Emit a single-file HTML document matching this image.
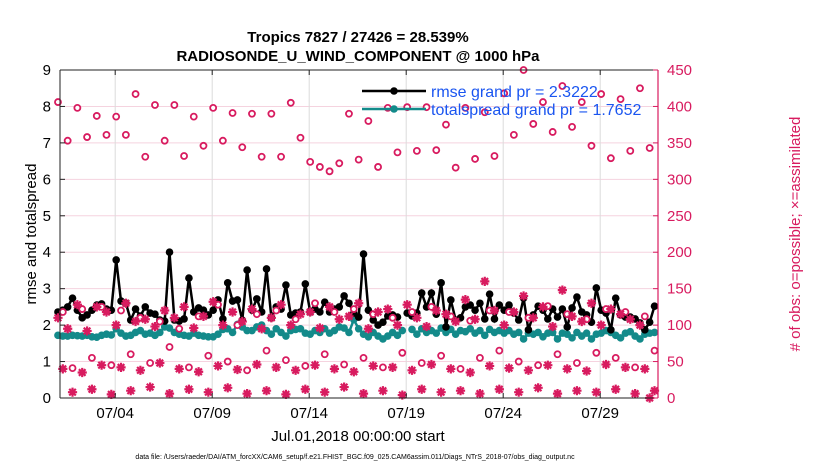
<!DOCTYPE html>
<html><head><meta charset="utf-8"><style>
body{margin:0;background:#fff;}
svg{display:block;font-family:"Liberation Sans",Arial,sans-serif;}
</style></head><body>
<svg id="chart" width="830" height="470" viewBox="0 0 830 470" xmlns="http://www.w3.org/2000/svg">
<text x="358" y="42" font-size="15" font-weight="bold" text-anchor="middle">Tropics 7827 / 27426 = 28.539%</text>
<text x="358" y="61" font-size="15" font-weight="bold" text-anchor="middle">RADIOSONDE_U_WIND_COMPONENT @ 1000 hPa</text>
<g id="grid"></g>
<g id="marks"></g>
<g id="axes"></g>
<g id="legend">
  <line x1="362" y1="91" x2="426" y2="91" stroke="#000" stroke-width="2.5"/>
  <circle cx="394" cy="91" r="3.8" fill="#000"/>
  <text x="431" y="97" font-size="16" fill="#1a55f0">rmse grand pr = 2.3222</text>
  <line x1="362" y1="109" x2="426" y2="109" stroke="#138a8a" stroke-width="2.5"/>
  <circle cx="394" cy="109" r="3.8" fill="#138a8a"/>
  <text x="431" y="115" font-size="16" fill="#1a55f0">totalspread grand pr = 1.7652</text>
</g>
<text x="358" y="441" font-size="15" text-anchor="middle">Jul.01,2018 00:00:00 start</text>
<text transform="translate(36,234) rotate(-90)" font-size="15" text-anchor="middle">rmse and totalspread</text>
<text transform="translate(800,234) rotate(-90)" font-size="15" text-anchor="middle" fill="#d81b5f"># of obs: o=possible; ×=assimilated</text>
<text x="355" y="459" font-size="7" text-anchor="middle">data file: /Users/raeder/DAI/ATM_forcXX/CAM6_setup/f.e21.FHIST_BGC.f09_025.CAM6assim.011/Diags_NTrS_2018-07/obs_diag_output.nc</text>
</svg>
<script>
const rmse = [2.36,2.41,2.5,2.74,2.41,2.2,2.28,2.41,2.55,2.58,2.44,2.41,3.79,2.66,2.6,2.14,2.44,2.25,2.5,2.33,2.3,2.14,2.11,4.0,2.14,2.11,2.17,3.29,2.36,2.47,2.41,2.28,2.41,
2.69,2.17,3.16,2.66,2.69,2.14,3.51,2.41,2.72,2.36,3.54,2.2,2.5,2.44,3.1,2.28,2.33,2.36,3.13,2.36,2.44,2.36,2.63,2.36,2.44,2.5,2.8,2.6,2.33,2.22,3.95,2.41,
2.14,2.0,2.08,2.25,2.28,2.22,null,2.33,2.25,2.33,2.88,2.5,2.88,2.3,3.16,1.95,2.69,2.14,2.2,2.5,2.55,2.41,2.6,2.17,2.85,2.17,2.55,2.41,2.55,2.33,
2.14,2.74,1.87,2.28,2.52,2.41,2.17,2.44,2.22,2.44,1.95,2.47,2.77,2.36,2.28,2.08,3.02,2.41,2.33,1.87,2.74,2.28,2.22,2.22,2.17,2.06,1.87,2.08,2.52];
const spread = [1.72,1.70,1.70,1.72,1.71,1.70,1.72,1.68,1.67,1.72,1.75,1.73,
1.90,1.78,1.70,1.72,1.80,1.85,1.75,1.78,1.72,1.80,1.95,
1.92,1.80,1.75,1.72,1.70,1.78,1.72,1.70,1.68,
1.68,1.75,1.88,1.90,1.80,2.02,1.95,1.85,1.85,1.95,
2.00,1.85,1.75,1.90,1.80,1.70,1.85,1.88,1.90,1.78,
1.75,1.85,1.80,1.90,1.78,1.85,1.95,1.92,1.80,2.15,1.90,
1.75,1.68,1.80,1.70,1.62,1.70,1.80,1.72,1.85,null,1.88,1.75,1.90,1.80,1.85,1.78,1.92,1.80,1.88,1.75,1.85,1.82,1.90,1.78,1.85,1.72,1.88,1.80,1.85,1.78,
1.85,1.75,1.80,1.62,1.78,1.75,1.80,1.68,1.78,1.80,1.62,1.78,1.75,1.65,1.80,1.70,1.78,1.62,1.75,1.78,1.85,1.80,1.72,1.65,1.78,1.82,1.70,1.62,1.75,1.78,1.80];
// obs counts: synoptic (00Z/12Z) steps and off-synoptic (06Z/18Z) steps
const possibleMain = [406,353,398,358,387,361,386,361,417,331,402,353,402,332,386,346,398,353,391,344,390,331,390,331,405,357,324,317,311,322,390,327,380,317,398,337,399,339,399,340,375,316,398,328,392,332,418,361,450,376,406,365,428,372,406,346,417,329,410,339,425,343];
const possibleOff = [118,41,122,55,125,45,120,60,110,48,105,70,95,42,112,58,128,50,100,38,115,65,120,52,108,44,130,60,118,46,122,55,115,42,110,62,118,48,125,58,112,40,106,55,120,65,118,50,110,45,126,60,115,48,108,62,122,55,118,42,112,65];
const assimMain = [110,95,128,92,125,118,100,130,105,108,98,120,110,125,96,112,132,100,118,105,122,95,110,128,100,115,118,96,125,108,112,130,95,118,122,100,128,110,98,120,115,105,135,108,160,120,100,118,140,110,125,98,148,112,105,130,100,122,115,108,100,0];
const assimOff = [40,8,35,12,45,5,42,10,38,15,48,6,40,12,36,8,44,14,39,6,46,10,42,5,38,12,45,8,40,15,36,6,44,10,42,4,38,12,46,8,40,10,35,6,44,12,41,8,38,14,45,6,40,10,37,8,46,12,42,6,40,10];
const xTickDays = [4,9,14,19,24,29];
const xTickLabels = ["07/04","07/09","07/14","07/19","07/24","07/29"];
const leftTicks = [0,1,2,3,4,5,6,7,8,9];
const rightTicks = [0,50,100,150,200,250,300,350,400,450];
const startDay = 1.05, stepDays = 0.25;

const NS="http://www.w3.org/2000/svg";
const L=60,R=658,T=70,B=398;
const xs=d=>57+19.4*(d-1);
const yl=v=>B-(v/9)*(B-T);
const yr=v=>B-(v/450)*(B-T);
const tOf=i=>startDay+stepDays*i;
function mk(tag,attrs,parent){const e=document.createElementNS(NS,tag);for(const k in attrs)e.setAttribute(k,attrs[k]);parent.appendChild(e);return e;}
const grid=document.getElementById('grid'),marks=document.getElementById('marks'),axes=document.getElementById('axes');
const CR="#d81b5f",TE="#138a8a";

rightTicks.forEach(v=>{const g=mk('line',{x1:L,x2:R,y1:yr(v),y2:yr(v),stroke:"#f5d3df","stroke-width":1},grid);

});
xTickDays.forEach(d=>{const g=mk('line',{x1:xs(d),x2:xs(d),y1:T,y2:B,stroke:"#dcdcdc","stroke-width":1},grid);

});

function series(vals,color,name){
  let d="",pen=false;
  vals.forEach((v,i)=>{if(v===null){pen=false;return;}d+=(pen?"L":"M")+xs(tOf(i)).toFixed(1)+","+yl(v).toFixed(1);pen=true;});
  const p=mk('path',{d:d,fill:"none",stroke:color,"stroke-width":2.5},marks);
  
  
  vals.forEach((v,i)=>{if(v===null)return;const c=mk('circle',{cx:xs(tOf(i)),cy:yl(v),r:3.8,fill:color},marks);
  
  });
}
series(spread,TE,'totalspread');
series(rmse,"#000",'rmse');

function circ(i,v){const c=mk('circle',{cx:xs(tOf(i)),cy:yr(v),r:3,fill:"#fff",stroke:CR,"stroke-width":1.8},marks);

}
function star(i,v){const x=xs(tOf(i)),y=yr(v),s=4.6,q=3.3;
const g=mk('path',{d:`M${x-s},${y}L${x+s},${y}M${x},${y-s}L${x},${y+s}M${x-q},${y-q}L${x+q},${y+q}M${x-q},${y+q}L${x+q},${y-q}`,stroke:CR,"stroke-width":2.2,fill:"none"},marks);

}
possibleMain.forEach((v,k)=>circ(2*k,v));
possibleOff.forEach((v,k)=>circ(2*k+1,v));
assimMain.forEach((v,k)=>star(2*k,v));
assimOff.forEach((v,k)=>star(2*k+1,v));

mk('line',{x1:L,x2:R,y1:T,y2:T,stroke:"#222","stroke-width":1},axes);
mk('line',{x1:L,x2:R,y1:B,y2:B,stroke:"#222","stroke-width":1},axes);
const la=mk('line',{x1:L,x2:L,y1:T,y2:B,stroke:"#222","stroke-width":1},axes);


const ra=mk('line',{x1:R,x2:R,y1:T,y2:B,stroke:CR,"stroke-width":1.2},axes);


leftTicks.forEach(v=>{mk('line',{x1:L,x2:L+5,y1:yl(v),y2:yl(v),stroke:"#222"},axes);
const t=mk('text',{x:L-9,y:yl(v)+5,"font-size":15,"text-anchor":"end"},axes);t.textContent=v;

});
rightTicks.forEach(v=>{mk('line',{x1:R-5,x2:R,y1:yr(v),y2:yr(v),stroke:CR},axes);
const t=mk('text',{x:R+9,y:yr(v)+5,"font-size":15,fill:CR},axes);t.textContent=v;

});
xTickDays.forEach((d,k)=>{mk('line',{x1:xs(d),x2:xs(d),y1:B-5,y2:B,stroke:"#222"},axes);mk('line',{x1:xs(d),x2:xs(d),y1:T,y2:T+5,stroke:"#222"},axes);
const t=mk('text',{x:xs(d),y:B+20,"font-size":15,"text-anchor":"middle"},axes);t.textContent=xTickLabels[k];

});
</script>
</body></html>
